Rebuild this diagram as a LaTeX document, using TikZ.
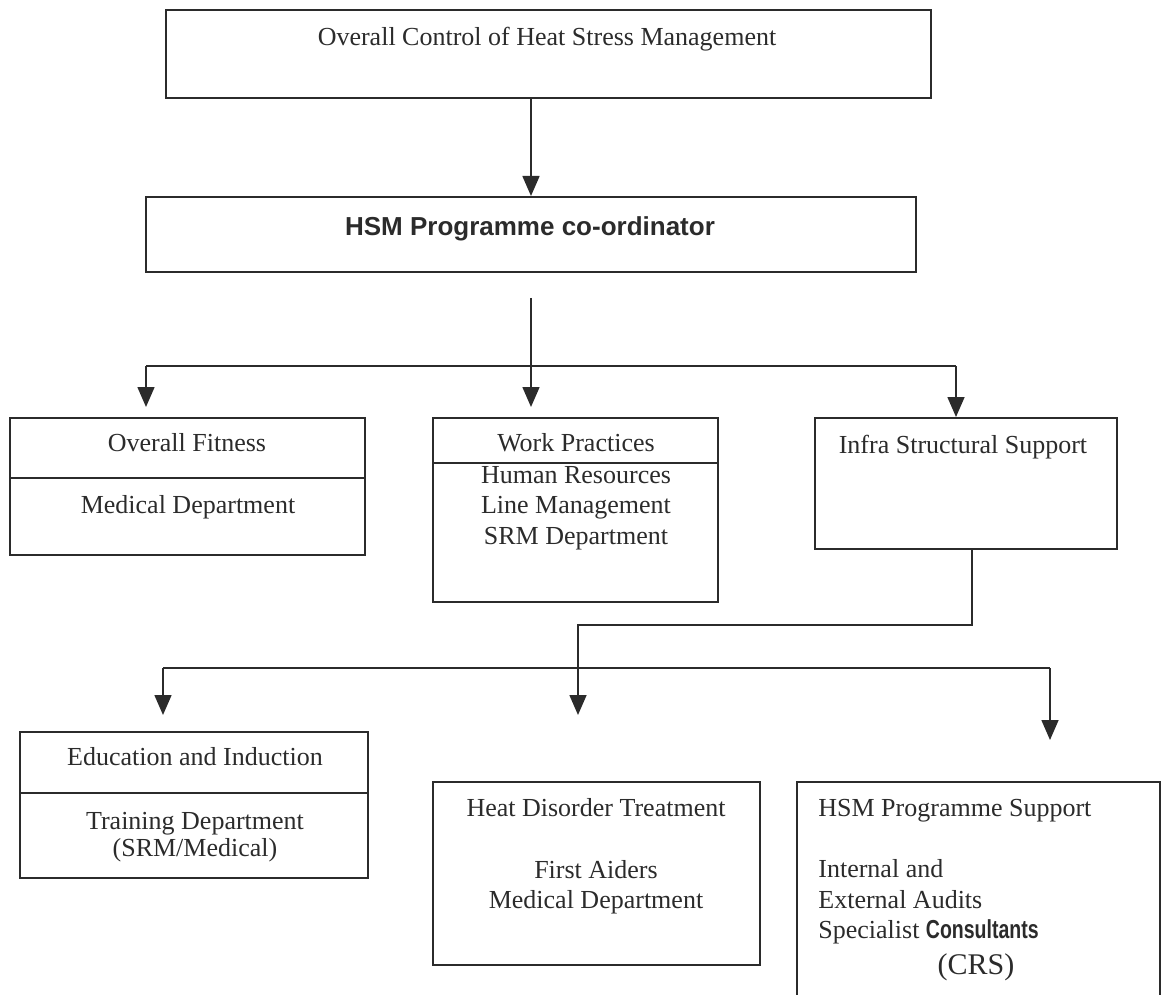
\documentclass[tikz,border=0pt]{standalone}
\usepackage{fontspec}
\setmainfont{Liberation Serif}
\newfontfamily\hsans{Liberation Sans}
\newfontfamily\narrowsans[FakeStretch=0.75]{Liberation Sans}
\usetikzlibrary{arrows.meta}
\definecolor{ink}{HTML}{2B2B2B}
\tikzset{
  box/.style={draw=ink, line width=1pt, inner sep=0pt, fill=none},
  txt/.style={inner sep=0pt, text=ink, text height=9pt, text depth=3pt, font=\fontsize{13}{15.5}\selectfont},
  conn/.style={draw=ink, line width=0.8pt},
  arr/.style={conn, -{Triangle[length=10pt,width=8.5pt]}},
}
\begin{document}
\begin{tikzpicture}[x=0.5pt,y=-0.5pt]
\useasboundingbox (0,0) rectangle (1169,995);
% boxes
\node[box, minimum width=382.5pt, minimum height=44pt] (top) at (548.5,54) {};
\node[box, minimum width=385pt, minimum height=37.5pt] (coord) at (531,234.5) {};
\node[box, minimum width=177.5pt, minimum height=68.5pt] (fit) at (187.5,486.5) {};
\node[box, minimum width=142.5pt, minimum height=92pt] (work) at (575.5,510) {};
\node[box, minimum width=151pt, minimum height=65.5pt] (infra) at (966,483.5) {};
\node[box, minimum width=174pt, minimum height=73pt] (edu) at (194,805) {};
\node[box, minimum width=163.5pt, minimum height=91.5pt] (heat) at (596.5,873.5) {};
\node[inner sep=0pt, minimum width=181.5pt, minimum height=106.5pt] (sup) at (978.5,888.5) {};
\draw[ink, line width=1pt] (sup.south west) -- (sup.north west) -- (sup.north east) -- (sup.south east);
% dividers
\draw[ink, line width=1pt] ([yshift=-30.5pt]fit.north west) -- ([yshift=-30.5pt]fit.north east);
\draw[ink, line width=1pt] ([yshift=-23pt]work.north west) -- ([yshift=-23pt]work.north east);
\draw[ink, line width=1pt] ([yshift=-31pt]edu.north west) -- ([yshift=-31pt]edu.north east);
% texts
\node[txt] (t1) at (547,40) {Overall Control of Heat Stress Management};
\node[txt, font=\hsans\bfseries\fontsize{13}{15.5}\selectfont] (t2) at (530,229) {HSM Programme co-ordinator};
\node[txt] (f1) at (187,445) {Overall Fitness};
\node[txt] (f2) at (188,507) {Medical Department};
\node[txt] (w1) at (576,445) {Work Practices};
\node[txt] (w2) at (576,477) {Human Resources};
\node[txt] (w3) at (576,507) {Line Management};
\node[txt] (w4) at (576,538) {SRM Department};
\node[txt] (i1) at (963,447) {Infra Structural Support};
\node[txt] (e1) at (195,759) {Education and Induction};
\node[txt] (e2) at (195,823) {Training Department};
\node[txt] (e3) at (195,850) {(SRM/Medical)};
\node[txt] (h1) at (596,810) {Heat Disorder Treatment};
\node[txt] (h2) at (596,872) {First Aiders};
\node[txt] (h3) at (596,902) {Medical Department};
\node[txt, anchor=west] (s1) at (818,810) {HSM Programme Support};
\node[txt, anchor=west] (s2) at (818,871) {Internal and};
\node[txt, anchor=west] (s3) at (818,902) {External Audits};
\node[txt, anchor=west] (s4) at (818,932) {Specialist {\narrowsans\bfseries Consultants}};
\node[txt, text height=10.5pt, text depth=3.5pt, font=\fontsize{15}{18}\selectfont] (s5) at (976,967) {(CRS)};
% connectors
\draw[arr] (top.south -| coord.north) -- (coord.north);
\coordinate (c1) at (531,298);
\coordinate (j1) at (531,366);
\coordinate (bl) at (146,366);
\coordinate (br) at (956,366);
\draw[conn] (c1) -- (j1);
\draw[conn] (bl) -- (br);
\draw[arr, shorten >=5pt] (bl) -- (bl |- fit.north);
\draw[arr, shorten >=5pt] (j1) -- (j1 |- work.north);
\draw[arr] (br) -- (br |- infra.north);
\coordinate (d0) at (972,549);
\coordinate (d1) at (972,625);
\coordinate (d2) at (578,625);
\coordinate (d3) at (578,715);
\draw[arr] (d0) -- (d1) -- (d2) -- (d3);
\coordinate (el) at (163,668);
\coordinate (er) at (1050,668);
\coordinate (elt) at (163,715);
\coordinate (ert) at (1050,740);
\draw[conn] (el) -- (er);
\draw[arr] (el) -- (elt);
\draw[arr] (er) -- (ert);
\end{tikzpicture}
\end{document}
